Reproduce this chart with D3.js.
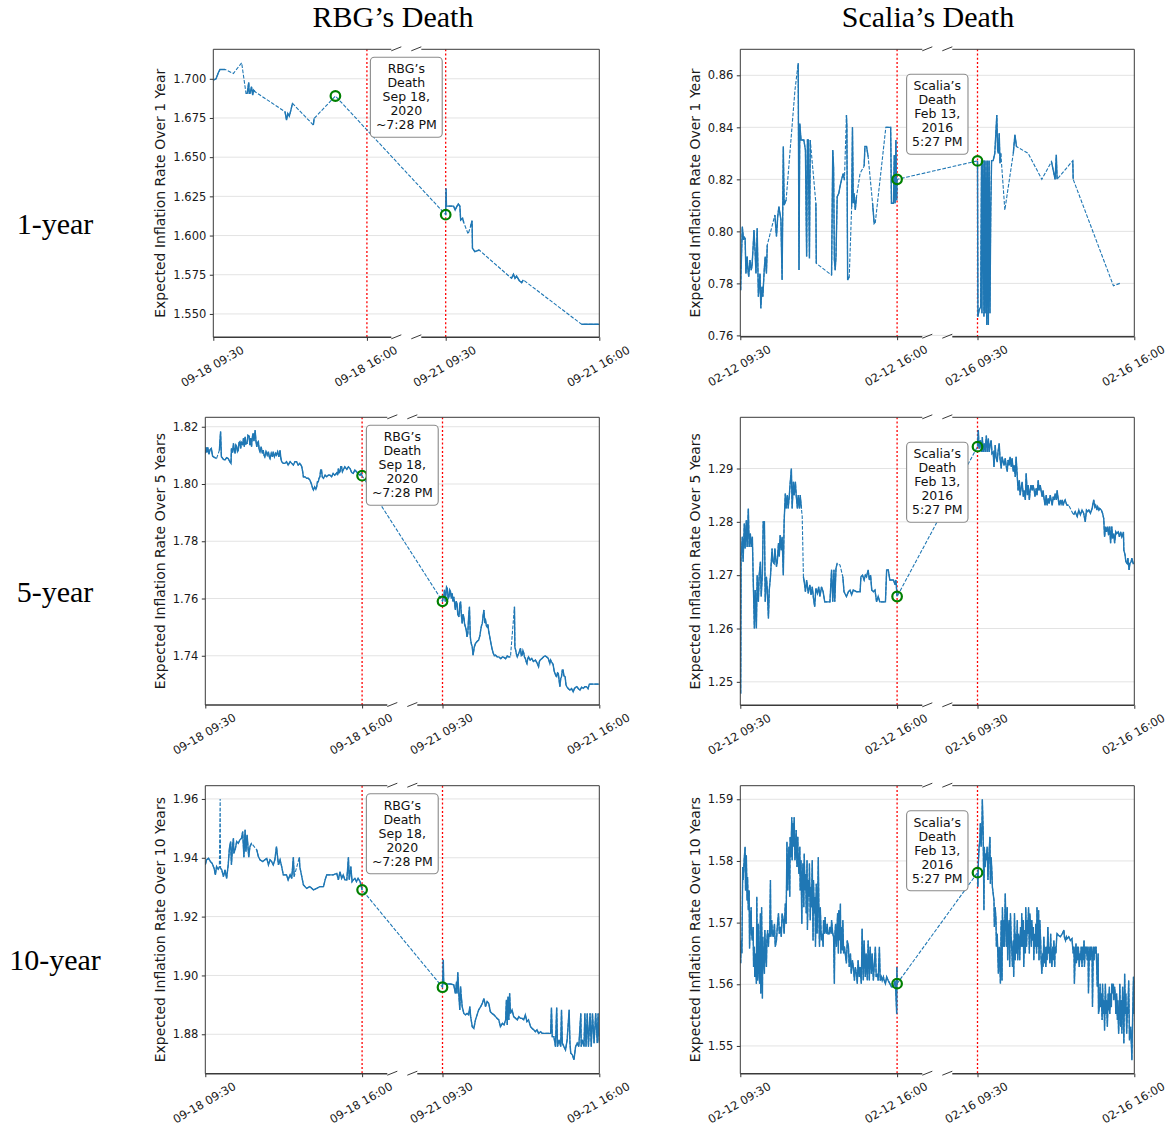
<!DOCTYPE html>
<html>
<head>
<meta charset="utf-8">
<script src="https://cdn.jsdelivr.net/npm/d3@7"></script>
<style>
  body { margin: 0; background: #fff; }
  svg { display: block; }
</style>
</head>
<body>
<svg id="chart" width="1171" height="1128"></svg>
<script>
// Time axis is in trading minutes: day one runs 0 (09:30) to 390 (16:00),
// day two opens at 590 (09:30) and closes at 980 (16:00).
// A null marks a gap in the quotes; gaps are bridged with a dashed line.
const sessionTicks = [0, 390, 590, 980];
const rbgTickLabels = ["09-18 09:30", "09-18 16:00", "09-21 09:30", "09-21 16:00"];
const scaliaTickLabels = ["02-12 09:30", "02-12 16:00", "02-16 09:30", "02-16 16:00"];

const rbgNote = ["RBG\u2019s", "Death", "Sep 18,", "2020", "~7:28 PM"];
const scaliaNote = ["Scalia\u2019s", "Death", "Feb 13,", "2016", "5:27 PM"];

const columnTitles = ["RBG\u2019s Death", "Scalia\u2019s Death"];
const rowLabels = ["1-year", "5-year", "10-year"];
const yLabels = ["Expected Inflation Rate Over 1 Year", "Expected Inflation Rate Over 5 Years", "Expected Inflation Rate Over 10 Years"];

const ticksRbg1y = [1.550, 1.575, 1.600, 1.625, 1.650, 1.675, 1.700];
const ticksScalia1y = [0.76, 0.78, 0.80, 0.82, 0.84, 0.86];
const ticksRbg5y = [1.74, 1.76, 1.78, 1.80, 1.82];
const ticksScalia5y = [1.25, 1.26, 1.27, 1.28, 1.29];
const ticksRbg10y = [1.88, 1.90, 1.92, 1.94, 1.96];
const ticksScalia10y = [1.55, 1.56, 1.57, 1.58, 1.59];

const rbg1y = [
  [0,1.6992],[3,1.6995],[7,1.7000],[13,1.7040],[17,1.7059],[30,1.7059],null,[51,1.7034],null,[72,1.7102],null,
  [83,1.6907],[86,1.6907],[90,1.6977],[91,1.6907],[93,1.6907],[97,1.6949],[100,1.6896],[102,1.6928],[106,1.6917],null,
  [182,1.6790],[186,1.6737],[189,1.6779],[193,1.6762],[197,1.6800],[201,1.6843],null,[254,1.6705],[256,1.6747],null,
  [310,1.6890],null,
  [590,1.6133],[591,1.6300],[592,1.6188],[610,1.6188],[614,1.6163],[618,1.6184],[622,1.6201],[626,1.6188],[628,1.6099],
  [633,1.6110],[636,1.6082],null,[647,1.6010],null,[653,1.6057],[657,1.6095],[658,1.5919],[664,1.5897],[675,1.5908],null,
  [757,1.5727],[762,1.5753],[766,1.5727],[770,1.5742],[777,1.5712],[783,1.5700],[787,1.5717],null,[935,1.5434],[980,1.5434]
];

const scalia1y = [
  [1,0.7774],[2,0.7851],[5,0.8018],[8,0.7967],[9,0.7979],[12,0.7973],[14,0.7838],[17,0.7903],[19,0.7851],[21,0.7826],
  [24,0.7890],[27,0.7851],[29,0.7864],[32,0.7941],[34,0.8005],[37,0.7915],[39,0.7838],[42,0.8012],[45,0.7749],[49,0.7838],
  [51,0.7704],[54,0.7787],[56,0.7749],[60,0.7864],[62,0.7903],[65,0.7838],[67,0.7947],null,
  [86,0.8063],[90,0.7980],[93,0.8056],[96,0.8095],[101,0.8044],[104,0.7813],[107,0.8326],[109,0.8101],[114,0.8121],null,
  [136,0.8544],null,[144,0.8646],[146,0.7851],[148,0.8415],[151,0.8351],[155,0.8351],[158,0.8351],[162,0.8313],[165,0.7903],
  [167,0.8351],[169,0.8351],[172,0.7896],[174,0.8351],null,[188,0.8108],[189,0.7877],null,
  [227,0.7832],[230,0.8313],[232,0.8249],[234,0.7890],[236,0.7851],[238,0.7903],[241,0.8133],[245,0.8146],[248,0.8172],
  [252,0.8200],[256,0.8223],[259,0.8197],null,[264,0.8447],[265,0.8403],[267,0.7813],[271,0.7826],null,
  [277,0.8095],[279,0.8400],[281,0.8108],[283,0.8146],[286,0.8082],[289,0.8133],null,[298,0.8223],null,
  [308,0.8251],[310,0.8326],[314,0.8326],[318,0.8287],null,[329,0.8108],[333,0.8031],[336,0.8037],null,
  [362,0.8400],[374,0.8400],[376,0.8108],[381,0.8108],[383,0.8294],[385,0.8108],[387,0.8351],[389,0.8120],[390,0.8200],null,
  [590,0.8271],[591,0.7672],[594,0.7697],[598,0.7710],[600,0.8272],[601,0.7685],[603,0.8272],[606,0.7672],[607,0.8272],
  [609,0.7685],[611,0.8272],[613,0.7640],[615,0.8272],[617,0.7640],[619,0.8272],[621,0.7685],[623,0.8082],[625,0.8272],
  [629,0.8272],[633,0.8300],[638,0.8447],[640,0.8313],[642,0.8300],[644,0.8377],[646,0.8262],[648,0.8300],null,
  [658,0.8082],null,[679,0.8300],[683,0.8371],[687,0.8326],null,[716,0.8300],null,[750,0.8200],null,
  [774,0.8268],[783,0.8200],[786,0.8294],[788,0.8200],null,[827,0.8272],[828,0.8200],null,[928,0.7791],null,[944,0.7800]
];

const rbg5y = [
  [0,1.8107],[2,1.8128],[4,1.8110],[6,1.8128],[9,1.8104],[12,1.8120],[15,1.8124],[18,1.8098],[20,1.8095],[24,1.8092],
  [28,1.8089],null,[35,1.8118],[38,1.8183],[40,1.8095],[42,1.8092],[45,1.8086],[49,1.8084],[53,1.8092],[57,1.8089],
  [61,1.8078],[64,1.8072],[65,1.8124],[68,1.8110],[70,1.8142],[72,1.8120],[74,1.8107],[76,1.8136],[78,1.8132],[80,1.8113],
  [82,1.8118],[84,1.8145],[86,1.8148],[88,1.8124],[90,1.8148],[93,1.8136],[95,1.8160],[97,1.8130],[99,1.8165],[101,1.8140],
  [104,1.8142],[106,1.8170],[109,1.8167],[111,1.8136],[113,1.8160],[115,1.8130],[117,1.8165],[119,1.8177],[121,1.8150],
  [124,1.8188],[126,1.8150],[128,1.8130],[130,1.8145],[132,1.8148],[134,1.8120],[136,1.8113],[139,1.8130],[142,1.8107],
  [144,1.8118],[146,1.8101],[148,1.8095],[151,1.8113],[154,1.8101],[157,1.8113],[159,1.8095],[161,1.8089],[164,1.8107],
  [167,1.8095],[169,1.8113],[172,1.8095],[175,1.8107],[177,1.8101],[180,1.8113],[183,1.8095],[186,1.8118],[188,1.8089],
  [190,1.8078],[194,1.8072],[198,1.8072],[202,1.8078],[206,1.8066],[211,1.8078],[215,1.8072],[219,1.8066],[223,1.8078],
  [227,1.8078],[231,1.8066],[235,1.8072],[238,1.8066],[240,1.8060],[242,1.8045],[244,1.8025],[248,1.8025],[252,1.8020],
  [256,1.8020],[260,1.8014],[264,1.8000],[267,1.7985],[269,1.7979],[272,1.7990],[275,1.7982],[277,1.7990],[279,1.8008],
  [281,1.8008],[283,1.8020],[285,1.8025],[287,1.8049],[289,1.8049],[291,1.8025],[294,1.8020],[298,1.8031],[302,1.8025],
  [306,1.8031],[310,1.8031],[314,1.8025],[318,1.8037],[322,1.8031],[327,1.8039],[329,1.8031],[331,1.8054],[333,1.8040],
  [335,1.8043],[337,1.8060],[339,1.8060],[341,1.8043],[343,1.8049],[347,1.8060],[352,1.8051],[356,1.8060],[360,1.8054],
  [364,1.8040],[368,1.8037],[372,1.8049],[376,1.8043],[380,1.8037],[385,1.8031],[388,1.8037],[390,1.8029],null,
  [590,1.7590],[592,1.7606],[593,1.7606],[595,1.7630],[597,1.7589],[600,1.7640],[602,1.7635],[604,1.7600],[606,1.7606],
  [608,1.7630],[610,1.7624],[612,1.7600],[614,1.7618],[616,1.7590],[618,1.7606],[620,1.7585],[622,1.7560],[624,1.7590],
  [626,1.7583],[628,1.7545],[631,1.7536],[633,1.7580],[635,1.7589],[637,1.7540],[639,1.7513],[641,1.7545],[643,1.7536],
  [645,1.7510],[647,1.7501],[649,1.7490],[651,1.7466],[653,1.7480],[655,1.7536],[657,1.7571],[659,1.7470],[660,1.7455],
  [662,1.7440],[664,1.7431],[666,1.7402],[669,1.7430],[672,1.7443],[676,1.7450],[680,1.7455],[683,1.7470],[685,1.7490],
  [687,1.7505],[689,1.7513],[691,1.7540],[693,1.7560],[695,1.7520],[697,1.7525],[699,1.7505],[701,1.7501],[703,1.7510],
  [705,1.7484],[707,1.7470],[709,1.7455],[711,1.7440],[713,1.7426],[716,1.7410],[719,1.7400],[722,1.7402],[726,1.7396],
  [730,1.7396],[735,1.7390],[739,1.7396],[743,1.7394],[747,1.7390],[751,1.7399],[755,1.7396],[759,1.7396],null,
  [769,1.7571],[770,1.7430],[772,1.7420],[774,1.7405],[776,1.7396],[780,1.7410],[784,1.7426],[786,1.7400],[788,1.7402],
  [790,1.7418],[792,1.7410],[794,1.7395],[796,1.7391],[798,1.7380],[800,1.7373],[802,1.7390],[804,1.7396],[808,1.7385],
  [812,1.7391],[816,1.7380],[821,1.7385],[825,1.7375],[829,1.7362],[831,1.7380],[833,1.7385],[837,1.7390],[841,1.7396],
  [845,1.7400],[849,1.7396],[853,1.7391],[857,1.7373],[859,1.7385],[861,1.7379],[865,1.7370],[868,1.7345],[870,1.7338],
  [872,1.7330],[874,1.7327],[876,1.7340],[878,1.7338],[880,1.7315],[882,1.7292],[884,1.7320],[886,1.7327],[888,1.7350],
  [890,1.7350],[892,1.7330],[895,1.7327],[897,1.7300],[899,1.7292],[903,1.7285],[907,1.7280],[911,1.7285],[915,1.7274],
  [918,1.7285],[921,1.7290],[924,1.7292],[928,1.7285],[932,1.7280],[936,1.7290],[940,1.7286],[944,1.7292],[948,1.7292],
  [952,1.7285],[955,1.7300],[957,1.7301],[980,1.7301]
];

const scalia5y = [
  [0,1.2479],[1,1.2479],[2,1.2735],[5,1.2772],[7,1.2725],[10,1.2797],[12,1.2750],[15,1.2803],[17,1.2753],[20,1.2825],
  [22,1.2753],[25,1.2778],[27,1.2753],[30,1.2772],[32,1.2697],[35,1.2600],[37,1.2672],[40,1.2600],[42,1.2700],[45,1.2650],
  [47,1.2700],[50,1.2725],[52,1.2660],[55,1.2703],[57,1.2800],[60,1.2800],[62,1.2650],[65,1.2697],[67,1.2675],[70,1.2619],
  [72,1.2672],[75,1.2697],[79,1.2750],[81,1.2725],[84,1.2722],[86,1.2750],[90,1.2716],[92,1.2725],[95,1.2760],[97,1.2735],
  [99,1.2775],[102,1.2747],[104,1.2772],[107,1.2700],[109,1.2800],[112,1.2853],[114,1.2825],[117,1.2850],[119,1.2825],
  [122,1.2850],[124,1.2872],[127,1.2900],[129,1.2825],[132,1.2875],[134,1.2850],[137,1.2875],[139,1.2850],[142,1.2825],
  [144,1.2850],[147,1.2825],[149,1.2850],[152,1.2825],null,[154,1.2810],null,[157,1.2697],[159,1.2688],[162,1.2669],
  [165,1.2691],[169,1.2666],[173,1.2682],[176,1.2663],[179,1.2678],[182,1.2657],[185,1.2641],[188,1.2675],[192,1.2666],
  [195,1.2678],[198,1.2660],[202,1.2678],[206,1.2669],[210,1.2650],[215,1.2650],[219,1.2650],[223,1.2650],[227,1.2710],
  [230,1.2650],[233,1.2710],[235,1.2650],[238,1.2713],[241,1.2722],null,[248,1.2719],null,[255,1.2697],[258,1.2669],
  [264,1.2660],[269,1.2669],[273,1.2672],[277,1.2663],[281,1.2672],[289,1.2669],[298,1.2669],[300,1.2697],[304,1.2700],
  [308,1.2691],[311,1.2700],[314,1.2697],[318,1.2710],[321,1.2691],[324,1.2700],[327,1.2672],[331,1.2669],[335,1.2672],
  [339,1.2650],[343,1.2660],[347,1.2650],[356,1.2650],[361,1.2650],[364,1.2710],[368,1.2710],[372,1.2691],[381,1.2691],
  [385,1.2682],[387,1.2691],[390,1.2660],null,
  [590,1.2941],[592,1.2972],[594,1.2937],[597,1.2953],[600,1.2931],[602,1.2959],[604,1.2931],[607,1.2947],[609,1.2931],
  [612,1.2962],[614,1.2931],[617,1.2956],[619,1.2931],[622,1.2947],[624,1.2953],[626,1.2928],[629,1.2931],[631,1.2903],
  [634,1.2944],[636,1.2922],[639,1.2912],[641,1.2931],[644,1.2947],[646,1.2919],[649,1.2900],[651,1.2922],[654,1.2912],
  [656,1.2906],[659,1.2919],[661,1.2906],[664,1.2894],[666,1.2916],[669,1.2906],[671,1.2922],[674,1.2903],[676,1.2919],
  [679,1.2894],[681,1.2906],[684,1.2884],[686,1.2922],[689,1.2884],[691,1.2859],[694,1.2878],[696,1.2850],[699,1.2866],
  [701,1.2875],[704,1.2847],[706,1.2859],[709,1.2841],[711,1.2891],[714,1.2850],[716,1.2869],[719,1.2841],[721,1.2859],
  [723,1.2869],[726,1.2859],[728,1.2869],[731,1.2859],[733,1.2847],[736,1.2863],[738,1.2850],[741,1.2878],[743,1.2859],
  [746,1.2869],[748,1.2859],[751,1.2847],[753,1.2859],[756,1.2841],[758,1.2831],[761,1.2850],[763,1.2831],[766,1.2844],
  [768,1.2834],[771,1.2850],[773,1.2841],[776,1.2831],[778,1.2847],[781,1.2841],[783,1.2853],[786,1.2841],[788,1.2859],
  [791,1.2841],[793,1.2831],[796,1.2841],[798,1.2834],[801,1.2841],[803,1.2831],[806,1.2838],[808,1.2841],[811,1.2834],
  [813,1.2831],[817,1.2831],null,[829,1.2813],[833,1.2819],[838,1.2810],[842,1.2822],[846,1.2813],[850,1.2822],[854,1.2816],
  [858,1.2800],[861,1.2822],[864,1.2819],[867,1.2822],[871,1.2816],[875,1.2825],[879,1.2841],[882,1.2828],[884,1.2831],
  [887,1.2822],[889,1.2828],[892,1.2822],[894,1.2825],[898,1.2822],[901,1.2816],[904,1.2806],[906,1.2772],[909,1.2791],
  [911,1.2781],[914,1.2791],[916,1.2775],[919,1.2791],[921,1.2760],[924,1.2791],[926,1.2769],[929,1.2778],[931,1.2760],
  [934,1.2781],[936,1.2778],[940,1.2781],[943,1.2772],[946,1.2781],[949,1.2772],[953,1.2781],[954,1.2747],[957,1.2738],
  [959,1.2725],[962,1.2722],[964,1.2732],[967,1.2710],[969,1.2722],[972,1.2725],[974,1.2732],[977,1.2722],[980,1.2722]
];

const rbg10y = [
  [0,1.9376],[3,1.9393],[8,1.9398],[13,1.9387],[17,1.9381],[22,1.9364],[25,1.9342],[28,1.9370],[32,1.9361],[35,1.9368],null,
  [37,1.9600],null,[38,1.9364],[41,1.9359],[45,1.9336],[49,1.9359],[53,1.9330],[57,1.9376],[60,1.9432],[63,1.9455],
  [65,1.9376],[68,1.9444],[70,1.9466],[71,1.9415],[75,1.9432],[78,1.9455],[82,1.9449],[86,1.9461],[90,1.9466],[93,1.9489],
  [96,1.9402],[99,1.9495],[101,1.9421],[104,1.9478],[108,1.9402],[111,1.9438],[115,1.9449],null,[128,1.9427],[132,1.9404],
  [136,1.9393],[143,1.9387],[148,1.9393],[153,1.9398],[157,1.9376],[161,1.9393],[165,1.9387],[169,1.9376],[173,1.9393],
  [177,1.9438],[182,1.9376],[186,1.9393],[190,1.9370],[194,1.9342],[198,1.9342],[202,1.9342],[206,1.9325],[211,1.9342],
  [215,1.9330],[219,1.9402],[221,1.9336],null,[234,1.9402],[235,1.9370],[240,1.9336],[244,1.9308],[248,1.9302],
  [252,1.9296],[260,1.9302],[269,1.9291],[277,1.9296],[285,1.9302],[294,1.9302],[298,1.9325],[302,1.9342],[310,1.9342],
  [318,1.9342],[327,1.9347],[331,1.9325],[335,1.9353],[339,1.9330],[343,1.9342],[347,1.9325],[352,1.9325],[356,1.9402],
  [358,1.9325],[362,1.9370],[365,1.9319],[368,1.9325],[372,1.9330],[376,1.9319],[380,1.9330],[385,1.9319],[390,1.9291],null,
  [590,1.8960],[592,1.9053],[593,1.8973],[597,1.8971],[610,1.8971],[618,1.8968],[622,1.8939],[625,1.8979],[626,1.8939],
  [628,1.9011],[631,1.8928],[633,1.8883],[635,1.8962],[636,1.8939],[639,1.8894],[643,1.8871],[647,1.8866],[651,1.8871],
  [655,1.8866],[658,1.8894],[660,1.8860],[664,1.8826],[668,1.8820],[672,1.8849],[676,1.8866],[680,1.8883],[685,1.8894],
  [689,1.8905],[693,1.8922],[697,1.8894],[701,1.8911],[705,1.8905],[709,1.8877],[713,1.8871],[718,1.8866],[722,1.8860],
  [726,1.8854],[730,1.8849],[734,1.8826],[739,1.8837],[743,1.8832],[747,1.8849],[749,1.8917],[751,1.8832],[753,1.8928],
  [755,1.8849],[757,1.8939],[759,1.8871],[763,1.8883],[767,1.8860],[772,1.8854],[776,1.8849],[780,1.8860],[784,1.8854],
  [788,1.8854],[792,1.8849],[796,1.8866],[800,1.8843],[804,1.8849],[809,1.8826],[813,1.8820],[817,1.8815],[821,1.8809],
  [825,1.8815],[829,1.8803],[834,1.8809],[838,1.8803],[842,1.8803],[850,1.8803],[859,1.8803],[861,1.8891],[863,1.8792],
  [867,1.8792],[871,1.8758],[874,1.8891],[876,1.8758],[880,1.8781],[884,1.8758],[886,1.8883],[888,1.8770],[892,1.8758],
  [896,1.8747],[900,1.8781],[905,1.8883],[907,1.8770],[909,1.8736],[913,1.8730],[917,1.8713],[921,1.8758],[925,1.8770],
  [929,1.8758],[934,1.8871],[935,1.8758],[938,1.8781],[942,1.8758],[944,1.8871],[947,1.8758],[950,1.8871],[953,1.8758],
  [957,1.8871],[960,1.8758],[963,1.8871],[967,1.8770],[971,1.8871],[975,1.8770],[977,1.8871],[980,1.8770]
];

const scalia10y = [
  [1,1.5634],[2,1.5671],[4,1.5650],[6,1.5790],[7,1.5769],[10,1.5806],[12,1.5823],[13,1.5752],[15,1.5809],[17,1.5736],
  [18,1.5774],[20,1.5720],[22,1.5752],[23,1.5658],[25,1.5704],[27,1.5725],[28,1.5682],[30,1.5671],[32,1.5693],[33,1.5628],
  [35,1.5661],[36,1.5612],[38,1.5650],[40,1.5601],[41,1.5742],[43,1.5606],[45,1.5698],[46,1.5628],[48,1.5601],[50,1.5715],
  [51,1.5585],[53,1.5725],[55,1.5577],[56,1.5677],[58,1.5639],[60,1.5617],[61,1.5688],[63,1.5650],[65,1.5628],[66,1.5671],
  [68,1.5688],[70,1.5661],[71,1.5682],[73,1.5677],[75,1.5769],[76,1.5677],[78,1.5704],[80,1.5682],[82,1.5677],[85,1.5698],
  [87,1.5661],[90,1.5671],[92,1.5693],[95,1.5715],[97,1.5682],[99,1.5693],[102,1.5677],[104,1.5715],[107,1.5704],
  [109,1.5682],[112,1.5731],[114,1.5698],[116,1.5831],[118,1.5752],[119,1.5790],[121,1.5823],[123,1.5742],[124,1.5839],
  [126,1.5806],[128,1.5871],[129,1.5801],[131,1.5861],[133,1.5823],[134,1.5871],[136,1.5801],[138,1.5823],[139,1.5850],
  [141,1.5790],[143,1.5839],[144,1.5801],[146,1.5779],[148,1.5823],[149,1.5752],[151,1.5801],[153,1.5698],[154,1.5769],
  [156,1.5796],[158,1.5725],[159,1.5812],[161,1.5752],[163,1.5779],[164,1.5715],[166,1.5801],[167,1.5688],[169,1.5769],
  [171,1.5742],[172,1.5796],[174,1.5704],[176,1.5758],[177,1.5725],[179,1.5801],[181,1.5671],[182,1.5769],[184,1.5715],
  [186,1.5742],[187,1.5661],[189,1.5763],[191,1.5682],[192,1.5715],[194,1.5806],[196,1.5693],[197,1.5661],[199,1.5725],
  [201,1.5682],[202,1.5671],[204,1.5682],[206,1.5661],[207,1.5704],[209,1.5682],[211,1.5709],[212,1.5688],[214,1.5682],
  [216,1.5698],[218,1.5682],[221,1.5682],[223,1.5693],[226,1.5682],[227,1.5704],[230,1.5682],[232,1.5677],[234,1.5601],
  [235,1.5677],[237,1.5698],[239,1.5661],[240,1.5677],[242,1.5715],[244,1.5650],[245,1.5720],[247,1.5671],[249,1.5731],
  [250,1.5650],[252,1.5693],[254,1.5655],[255,1.5704],[257,1.5650],[259,1.5661],[261,1.5650],[264,1.5634],[266,1.5671],
  [269,1.5661],[271,1.5628],[274,1.5650],[276,1.5617],[279,1.5639],[281,1.5628],[284,1.5606],[286,1.5628],[289,1.5617],
  [291,1.5601],[293,1.5639],[296,1.5612],[298,1.5628],[301,1.5601],[303,1.5690],[306,1.5606],[308,1.5671],[311,1.5612],
  [313,1.5650],[316,1.5606],[318,1.5671],[321,1.5606],[323,1.5661],[326,1.5617],[328,1.5650],[331,1.5606],[333,1.5628],
  [336,1.5661],[338,1.5612],[341,1.5617],[343,1.5606],[346,1.5661],[348,1.5606],[351,1.5612],[353,1.5606],[356,1.5612],
  [358,1.5606],[361,1.5601],[364,1.5612],[368,1.5606],[372,1.5601],[376,1.5596],[381,1.5596],[385,1.5606],[387,1.5585],
  [389,1.5552],[389.5,1.5628],[390,1.5601],null,
  [590,1.5781],[591,1.5758],[592,1.5796],[594,1.5823],[596,1.5834],[597,1.5861],[599,1.5823],[601,1.5855],[602,1.5900],
  [604,1.5850],[606,1.5720],[607,1.5823],[609,1.5790],[611,1.5812],[612,1.5801],[614,1.5823],[616,1.5769],[617,1.5790],
  [619,1.5817],[621,1.5839],[622,1.5763],[624,1.5806],[626,1.5779],[627,1.5758],[629,1.5747],[631,1.5736],[632,1.5693],
  [634,1.5725],[636,1.5704],[637,1.5661],[639,1.5682],[641,1.5639],[642,1.5617],[644,1.5661],[646,1.5628],[647,1.5601],
  [649,1.5704],[651,1.5606],[652,1.5725],[654,1.5661],[656,1.5704],[657,1.5661],[659,1.5747],[661,1.5693],[662,1.5661],
  [664,1.5725],[665,1.5639],[667,1.5693],[669,1.5704],[670,1.5628],[672,1.5715],[674,1.5671],[675,1.5661],[677,1.5628],
  [679,1.5671],[680,1.5612],[682,1.5715],[684,1.5639],[685,1.5682],[687,1.5650],[689,1.5704],[690,1.5639],[692,1.5682],
  [694,1.5671],[695,1.5639],[697,1.5693],[699,1.5661],[700,1.5715],[702,1.5661],[704,1.5704],[705,1.5628],[707,1.5688],
  [709,1.5650],[710,1.5725],[712,1.5661],[714,1.5704],[715,1.5682],[717,1.5725],[719,1.5650],[720,1.5715],[722,1.5698],
  [724,1.5661],[725,1.5704],[727,1.5671],[729,1.5693],[730,1.5639],[732,1.5682],[734,1.5661],[735,1.5698],[737,1.5650],
  [738,1.5725],[740,1.5661],[742,1.5720],[743,1.5639],[745,1.5704],[747,1.5671],[748,1.5644],[750,1.5617],[752,1.5650],
  [753,1.5628],[755,1.5677],[757,1.5634],[758,1.5661],[760,1.5628],[762,1.5661],[763,1.5639],[765,1.5693],[767,1.5650],
  [768,1.5661],[770,1.5634],[772,1.5682],[773,1.5650],[775,1.5628],[777,1.5661],[778,1.5639],[780,1.5671],[782,1.5628],
  [783,1.5661],[785,1.5650],[787,1.5677],[788,1.5682],[792,1.5679],[796,1.5677],[801,1.5682],[805,1.5688],[806,1.5677],
  [809,1.5671],[811,1.5677],[813,1.5674],[817,1.5677],[821,1.5671],[825,1.5674],[828,1.5650],[830,1.5661],[831,1.5601],
  [833,1.5650],[835,1.5666],[836,1.5634],[838,1.5661],[840,1.5639],[841,1.5661],[843,1.5628],[845,1.5650],[846,1.5639],
  [848,1.5661],[850,1.5628],[851,1.5661],[853,1.5639],[855,1.5671],[856,1.5628],[858,1.5661],[860,1.5650],[861,1.5661],
  [863,1.5639],[865,1.5661],[866,1.5585],[868,1.5650],[870,1.5661],[871,1.5639],[873,1.5661],[875,1.5650],[876,1.5563],
  [878,1.5661],[880,1.5639],[881,1.5661],[883,1.5650],[885,1.5661],[886,1.5639],[888,1.5596],[890,1.5650],[891,1.5552],
  [893,1.5563],[895,1.5601],[896,1.5563],[898,1.5585],[900,1.5542],[901,1.5601],[903,1.5552],[905,1.5574],[906,1.5525],
  [908,1.5601],[910,1.5552],[911,1.5574],[913,1.5531],[915,1.5585],[916,1.5558],[918,1.5596],[919,1.5552],[921,1.5585],
  [923,1.5563],[924,1.5601],[926,1.5585],[928,1.5601],[929,1.5574],[931,1.5596],[933,1.5579],[934,1.5552],[936,1.5585],
  [938,1.5542],[939,1.5574],[941,1.5520],[943,1.5563],[944,1.5601],[946,1.5531],[948,1.5574],[949,1.5520],[951,1.5596],
  [953,1.5552],[954,1.5504],[956,1.5617],[958,1.5552],[959,1.5585],[961,1.5520],[963,1.5563],[964,1.5552],[966,1.5606],
  [968,1.5509],[969,1.5520],[971,1.5531],[973,1.5498],[974,1.5477],[976,1.5552],[978,1.5612],[979,1.5552],[980,1.5606]
];

// Panel layout: [column][row]
const panels = [
  { series: rbg1y,     ticks: ticksRbg1y,     fmt: ".3f", yDomain: [1.5351, 1.7188], col: 0, row: 0,
    box: { left: 213.3, right: 599.3, top: 49.3, bottom: 337.3 } },
  { series: scalia1y,  ticks: ticksScalia1y,  fmt: ".2f", yDomain: [0.7595, 0.8700], col: 1, row: 0,
    box: { left: 740.3, right: 1134.3, top: 49.3, bottom: 336.7 } },
  { series: rbg5y,     ticks: ticksRbg5y,     fmt: ".2f", yDomain: [1.7228, 1.8233], col: 0, row: 1,
    box: { left: 205.3, right: 599.3, top: 417.3, bottom: 705.0 } },
  { series: scalia5y,  ticks: ticksScalia5y,  fmt: ".2f", yDomain: [1.2456, 1.2996], col: 1, row: 1,
    box: { left: 740.3, right: 1134.3, top: 417.3, bottom: 705.3 } },
  { series: rbg10y,    ticks: ticksRbg10y,    fmt: ".2f", yDomain: [1.8666, 1.9645], col: 0, row: 2,
    box: { left: 205.3, right: 599.3, top: 785.7, bottom: 1073.7 } },
  { series: scalia10y, ticks: ticksScalia10y, fmt: ".2f", yDomain: [1.5455, 1.5922], col: 1, row: 2,
    box: { left: 740.3, right: 1134.3, top: 785.7, bottom: 1073.7 } }
];

const colStyle = [
  { tickLabels: rbgTickLabels, note: rbgNote, noteOffset: 8, yLabelX: 160, titleX: 393 },
  { tickLabels: scaliaTickLabels, note: scaliaNote, noteOffset: 25, yLabelX: 695, titleX: 928 }
];
const rowLabelBaselines = [234, 602, 970];

const BLUE = "#1f77b4";
const SANS = "DejaVu Sans, Verdana, sans-serif";
const SERIF = "Liberation Serif, Times New Roman, serif";

const svg = d3.select("#chart");

// Column titles and row labels
columnTitles.forEach((t, i) => {
  svg.append("text").attr("x", colStyle[i].titleX).attr("y", 27)
    .attr("text-anchor", "middle").attr("font-family", SERIF).attr("font-size", 30)
    .attr("fill", "#000").text(t);
});
rowLabels.forEach((t, i) => {
  svg.append("text").attr("x", 55).attr("y", rowLabelBaselines[i])
    .attr("text-anchor", "middle").attr("font-family", SERIF).attr("font-size", 30)
    .attr("fill", "#000").text(t);
});

panels.forEach((p, idx) => {
  const b = p.box;
  const cs = colStyle[p.col];
  const x = d3.scaleLinear().domain([sessionTicks[0], sessionTicks[3]]).range([b.left, b.right]);
  const y = d3.scaleLinear().domain(p.yDomain).range([b.bottom, b.top]);
  const g = svg.append("g");

  const clipId = "clip" + idx;
  g.append("clipPath").attr("id", clipId).append("rect")
    .attr("x", b.left).attr("y", b.top).attr("width", b.right - b.left).attr("height", b.bottom - b.top);

  // horizontal grid
  g.append("g").selectAll("line").data(p.ticks).join("line")
    .attr("x1", b.left).attr("x2", b.right)
    .attr("y1", d => y(d)).attr("y2", d => y(d))
    .attr("stroke", "#e3e3e3").attr("stroke-width", 1);

  const plot = g.append("g").attr("clip-path", `url(#${clipId})`);

  // close / open reference lines
  plot.selectAll("line.event").data([sessionTicks[1], sessionTicks[2]]).join("line")
    .attr("class", "event")
    .attr("x1", d => x(d)).attr("x2", d => x(d)).attr("y1", b.top).attr("y2", b.bottom)
    .attr("stroke", "red").attr("stroke-width", 1.3).attr("stroke-dasharray", "2,2.2");

  const line = d3.line().defined(d => d !== null).x(d => x(d[0])).y(d => y(d[1]));
  const present = p.series.filter(d => d !== null);

  // dashed bridge across every quote, then solid runs on top
  plot.append("path").datum(present).attr("d", d3.line().x(d => x(d[0])).y(d => y(d[1])))
    .attr("fill", "none").attr("stroke", BLUE).attr("stroke-width", 1.1)
    .attr("stroke-dasharray", "3.7,1.6");
  plot.append("path").datum(p.series).attr("d", line)
    .attr("fill", "none").attr("stroke", BLUE).attr("stroke-width", 1.4)
    .attr("stroke-linejoin", "miter");

  // last quote before the event and first one after it
  const before = present.filter(d => d[0] <= sessionTicks[1]).pop();
  const after = present.find(d => d[0] >= sessionTicks[2]);
  g.selectAll("circle").data([before, after]).join("circle")
    .attr("cx", d => x(d[0])).attr("cy", d => y(d[1])).attr("r", 4.8)
    .attr("fill", "none").attr("stroke", "#008000").attr("stroke-width", 2.2);

  // y axis
  const yAxis = d3.axisLeft(y).tickValues(p.ticks).tickFormat(d3.format(p.fmt))
    .tickSize(3.5).tickPadding(3.5);
  const ya = g.append("g").attr("transform", `translate(${b.left},0)`).call(yAxis);
  ya.select(".domain").remove();
  ya.selectAll(".tick line").attr("stroke", "#333");
  ya.selectAll("text").attr("font-family", SANS).attr("font-size", 11.5).attr("fill", "#1a1a1a");

  // x axis
  const xAxis = d3.axisBottom(x).tickValues(sessionTicks).tickFormat((d, i) => cs.tickLabels[i]).tickSize(3.5);
  const xa = g.append("g").attr("transform", `translate(0,${b.bottom})`).call(xAxis);
  xa.select(".domain").remove();
  xa.selectAll(".tick line").attr("stroke", "#333");
  xa.selectAll("text")
    .attr("font-family", SANS).attr("font-size", 11.5).attr("fill", "#1a1a1a")
    .attr("y", 0).attr("dy", "0.35em").attr("text-anchor", "middle")
    .attr("transform", "translate(-1.5,29) rotate(-30)");

  // frame with the overnight break on top and bottom
  const xm = x((sessionTicks[1] + sessionTicks[2]) / 2);
  const frame = g.append("g").attr("stroke", "#3a3a3a").attr("fill", "none");
  frame.append("line").attr("x1", b.left).attr("x2", b.left).attr("y1", b.top).attr("y2", b.bottom).attr("stroke-width", 1);
  frame.append("line").attr("x1", b.right).attr("x2", b.right).attr("y1", b.top).attr("y2", b.bottom).attr("stroke-width", 1);
  [[b.top, 1], [b.bottom, 1.4]].forEach(([yy, w]) => {
    frame.append("line").attr("x1", b.left).attr("x2", xm - 15).attr("y1", yy).attr("y2", yy).attr("stroke-width", w);
    frame.append("line").attr("x1", xm + 15).attr("x2", b.right).attr("y1", yy).attr("y2", yy).attr("stroke-width", w);
    frame.append("line").attr("x1", xm - 15).attr("x2", xm - 5).attr("y1", yy + 1.5).attr("y2", yy - 2.5).attr("stroke-width", 1);
    frame.append("line").attr("x1", xm + 5).attr("x2", xm + 15).attr("y1", yy + 1.5).attr("y2", yy - 2.5).attr("stroke-width", 1);
  });

  // y label
  g.append("text")
    .attr("transform", `translate(${cs.yLabelX},${(b.top + b.bottom) / 2}) rotate(-90)`)
    .attr("text-anchor", "middle").attr("dominant-baseline", "central")
    .attr("font-family", SANS).attr("font-size", 14).attr("fill", "#1a1a1a")
    .text(yLabels[p.row]);

  // event note
  const note = g.append("g");
  const lineH = 14, pad = 5.5;
  const top = b.top + cs.noteOffset;
  const texts = note.selectAll("text").data(cs.note).join("text")
    .attr("x", xm).attr("y", (d, i) => top + 16 + i * lineH)
    .attr("text-anchor", "middle").attr("font-family", SANS).attr("font-size", 12.5).attr("fill", "#111")
    .text(d => d);
  let w = 0;
  texts.each(function () { w = Math.max(w, this.getComputedTextLength()); });
  note.insert("rect", "text")
    .attr("x", xm - w / 2 - pad).attr("y", top)
    .attr("width", w + 2 * pad).attr("height", cs.note.length * lineH + 10)
    .attr("rx", 4).attr("ry", 4)
    .attr("fill", "#fff").attr("stroke", "#8a8a8a").attr("stroke-width", 1.1);
});
</script>
</body>
</html>
